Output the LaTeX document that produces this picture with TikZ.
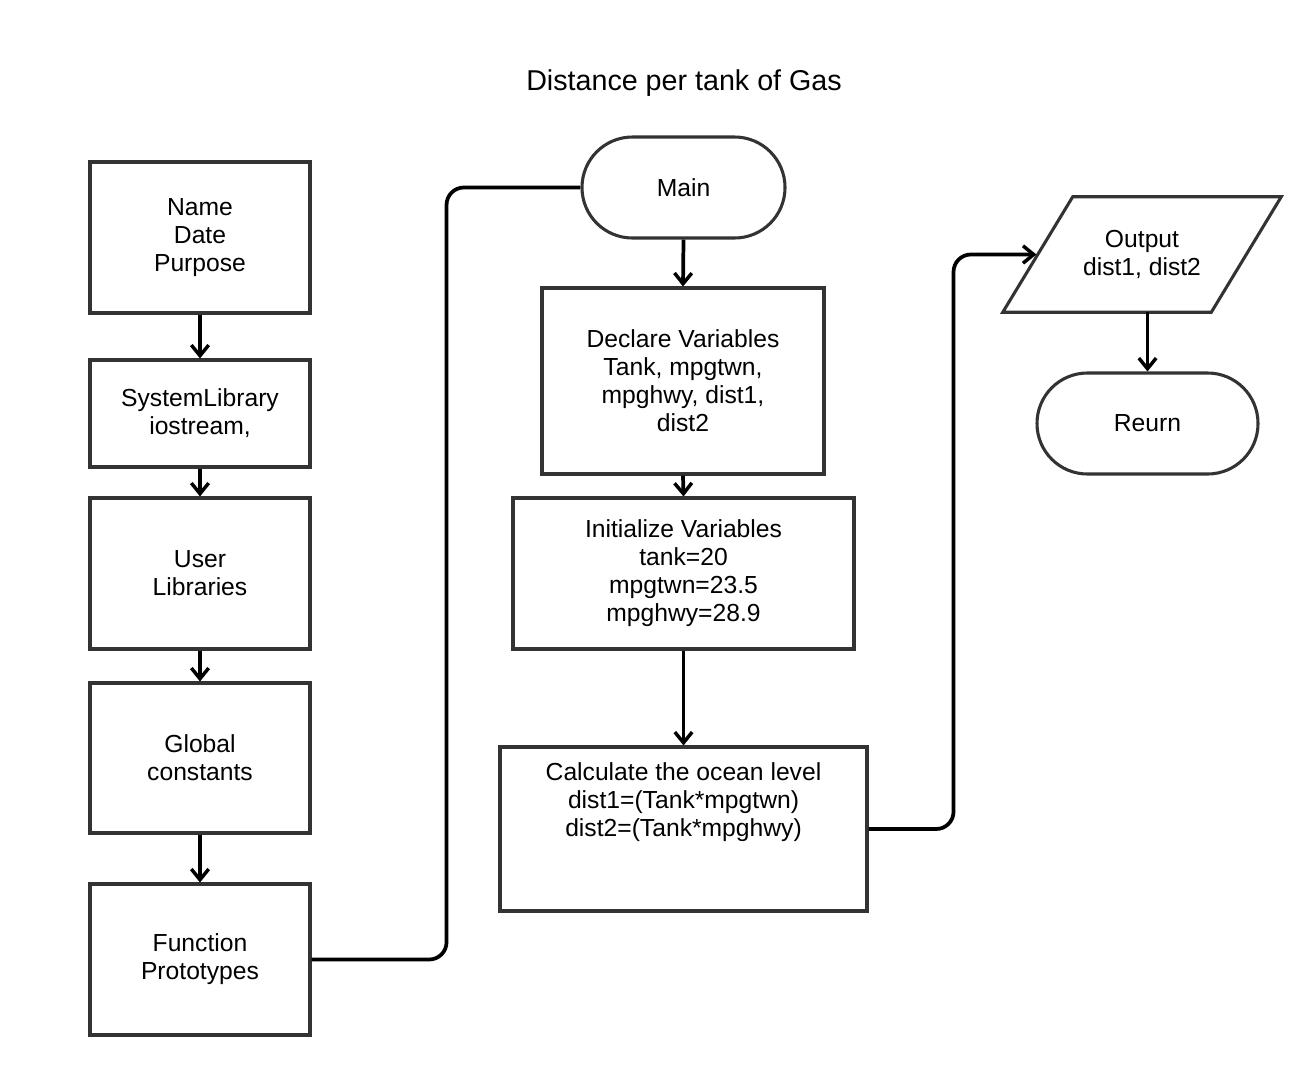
\documentclass[tikz,border=0pt]{standalone}
\usepackage{fontspec}
\setmainfont{Liberation Sans}
\usetikzlibrary{arrows.meta}
\definecolor{boxc}{HTML}{333333}
\begin{document}
\begin{tikzpicture}[x=0.75pt,y=-0.75pt,
  txt/.style={align=center, inner sep=0pt, font=\fontsize{18.5}{21}\selectfont},
  box/.style={txt, draw=boxc, line width=2.3pt},
  lbox/.style={box, minimum width=165pt},
  term/.style={box, rounded corners=37.8pt},
  conn/.style={draw=black, line width=2.8pt},
  arr/.style={conn, -{Straight Barb[length=8pt,width=13pt,line width=2.6pt]}},
  title/.style={font=\fontsize{21.5}{25}\selectfont},
]
\useasboundingbox (0,0) rectangle (1309,1075);
\node[title] (ttl) at (684,83) {Distance per tank of Gas};
% left column
\node[lbox, minimum height=113.25pt] (b1) at (200,237.5) {Name\\ Date\\Purpose};
\node[lbox, minimum height=80.25pt] (b2) at (200,413.5) {SystemLibrary\\iostream,};
\node[lbox, minimum height=113.25pt] (b3) at (200,573.5) {User\\Libraries};
\node[lbox, minimum height=112.5pt] (b4) at (200,758) {Global\\constants};
\node[lbox, minimum height=113.25pt] (b5) at (200,959.5) {Function\\Prototypes};
% middle column
\node[term, minimum width=152.25pt, minimum height=75.75pt] (main) at (683.5,187.5) {Main};
\node[box, minimum width=211.5pt, minimum height=139.5pt] (decl) at (683,381)
  {Declare Variables\\Tank, mpgtwn,\\mpghwy, dist1,\\dist2};
\node[box, minimum width=255.75pt, minimum height=113.25pt] (init) at (683.5,573.5)
  {Initialize Variables\\ tank=20\\mpgtwn=23.5\\mpghwy=28.9};
\node[box, minimum width=275.25pt, minimum height=123pt] (calc) at (683.5,829) {};
\node[txt, anchor=north] (calct) at ([yshift=-13pt]calc.north)
  {Calculate the ocean level\\dist1=(Tank*mpgtwn)\\dist2=(Tank*mpghwy)};
% right column
\node[txt, minimum width=208.5pt, minimum height=86.25pt] (out) at (1142,254.5) {Output\\dist1, dist2};
\draw[boxc, line width=2.3pt, line join=miter]
  (out.south west) -- ([xshift=52.5pt]out.north west) -- (out.north east)
  -- ([xshift=-52.5pt]out.south east) -- cycle;
\coordinate (outL) at ([xshift=26.25pt]out.west);
\node[term, minimum width=165.75pt, minimum height=75.75pt] (ret) at (1147.5,423.5) {Reurn};
% connectors
\draw[arr] (b1.south) -- (b2.north);
\draw[arr] (b2.south) -- (b3.north);
\draw[arr] (b3.south) -- (b4.north);
\draw[arr] (b4.south) -- (b5.north);
\draw[conn, rounded corners=13pt] (b5.east) -- ++(135,0) |- (main.west);
\draw[arr] (main.south) -- (decl.north);
\draw[arr] (decl.south) -- (init.north);
\draw[arr] (init.south) -- (calc.north);
\draw[arr, rounded corners=13pt] (calc.east) -- ++(85,0) |- ([xshift=-1pt]outL);
\draw[arr] (out.south -| ret.north) -- (ret.north);
\end{tikzpicture}
\end{document}
